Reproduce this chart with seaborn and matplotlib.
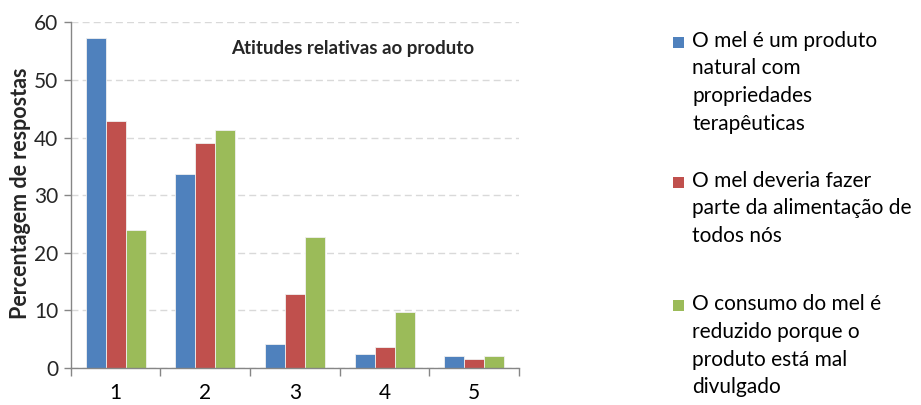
import matplotlib
matplotlib.use("Agg")
import matplotlib.pyplot as plt
from matplotlib.patches import Rectangle
import seaborn as sns
import pandas as pd

categorias = ["1", "2", "3", "4", "5"]
series = [
    "O mel é um produto\nnatural com\npropriedades\nterapêuticas",
    "O mel deveria fazer\nparte da alimentação de\ntodos nós",
    "O consumo do mel é\nreduzido porque o\nproduto está mal\ndivulgado",
]
valores_natural = [57.3, 33.7, 4.2, 2.4, 2.1]
valores_alimentacao = [42.8, 39.1, 12.8, 3.6, 1.5]
valores_consumo = [24.0, 41.3, 22.7, 9.8, 2.1]
cores = ["#4F81BD", "#C0504D", "#9BBB59"]
titulo = "Atitudes relativas ao produto"
rotulo_y = "Percentagem de respostas"

rows = []
for s, vals in zip(series, [valores_natural, valores_alimentacao, valores_consumo]):
    for c, v in zip(categorias, vals):
        rows.append({"cat": c, "serie": s, "valor": v})
df = pd.DataFrame(rows)

sns.set_theme(style="white")
plt.rcParams["font.family"] = ["Lato", "DejaVu Sans"]

W, H = 921, 405
fig = plt.figure(figsize=(W / 100, H / 100), dpi=100)
ax = fig.add_axes([0.0768, 0.0914, 0.4868, 0.8536])

sns.barplot(data=df, x="cat", y="valor", hue="serie", palette=cores,
            width=0.67, saturation=1, ax=ax, edgecolor="#f0f0f0", linewidth=0.6,
            errorbar=None, legend=False)

ax.set_ylim(0, 60)
ax.set_xlim(-0.5, 4.5)
ax.set_yticks([0, 10, 20, 30, 40, 50, 60])
ax.set_xticks([-0.5, 0.5, 1.5, 2.5, 3.5, 4.5], minor=True)
ax.tick_params(axis="x", which="major", length=0, labelsize=15, pad=11, colors="black")
ax.tick_params(axis="x", which="minor", length=6, width=1, color="#868686", direction="out", bottom=True)
ax.tick_params(axis="y", length=5, width=1, color="#868686", direction="out", labelsize=15, left=True, pad=4)
ax.yaxis.grid(True, linestyle=(0, (5, 3)), color="#D9D9D9", linewidth=1)
ax.set_axisbelow(True)
for side in ["top", "right"]:
    ax.spines[side].set_visible(False)
for side in ["left", "bottom"]:
    ax.spines[side].set_color("#868686")
    ax.spines[side].set_linewidth(1)

ax.set_xlabel("")
ax.set_ylabel(rotulo_y, fontsize=15.5, fontweight="bold")
ax.yaxis.set_label_coords(-0.088, 0.505)

ax.text(0.629, 0.925, titulo, transform=ax.transAxes, ha="center", va="center",
        fontsize=13.5, fontweight="bold")

# legend (manual, first-line aligned markers)
first_baselines = [46.7, 186.7, 310.0]
line_step = 27.8
for label, cor, b0 in zip(series, cores, first_baselines):
    fig.patches.append(Rectangle((673 / W, (H - (b0 + 1.3)) / H), 11 / W, 11 / H,
                                 transform=fig.transFigure, facecolor=cor,
                                 edgecolor="none"))
    for i, line in enumerate(label.split("\n")):
        y = b0 + i * line_step
        fig.text(692 / W, (H - y) / H, line, ha="left", va="baseline",
                 fontsize=15, color="black")

fig.savefig("out.png", dpi=100)
